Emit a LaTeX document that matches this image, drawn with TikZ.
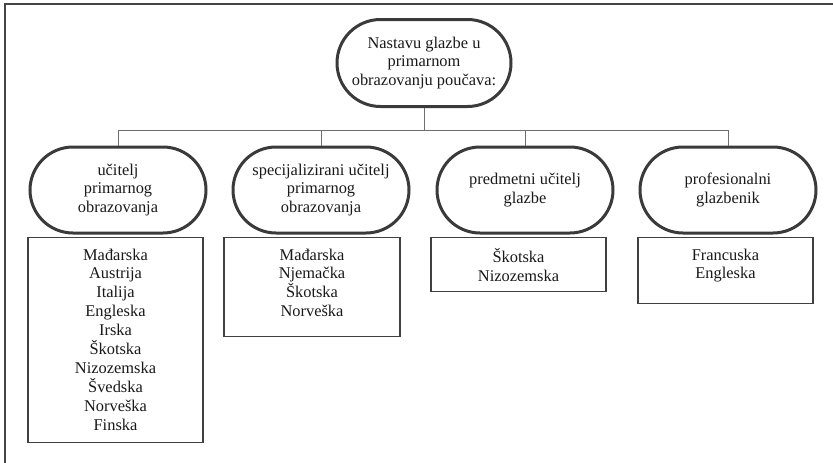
\documentclass[tikz,border=0pt]{standalone}
\usepackage{fontspec}
\setmainfont{Liberation Serif}
\usepackage{tikz}
\usetikzlibrary{shapes.misc,positioning}
\usepackage{xcolor}

\begin{document}
\begin{tikzpicture}[x=1pt,y=-1pt]
    %styles
    \tikzstyle{pill}=[rounded rectangle,draw={rgb,255:red,58;green,58;blue,58},line width=3pt,
        minimum width=176pt,minimum height=86pt,inner sep=0pt,align=center,
        font=\fontsize{16.4pt}{18.9pt}\selectfont,text={rgb,255:red,25;green,25;blue,25}]
    \tikzstyle{box}=[rectangle,draw={rgb,255:red,64;green,64;blue,64},line width=1.4pt,
        minimum width=175pt,inner sep=0pt,anchor=north]
    \tikzstyle{list}=[align=center,inner sep=0pt,anchor=north,
        font=\fontsize{16.4pt}{18.9pt}\selectfont,text={rgb,255:red,25;green,25;blue,25},
        execute at begin node=\strut]
    \tikzstyle{link}=[draw={rgb,255:red,110;green,110;blue,110},line width=0.9pt]
    \useasboundingbox (0,0) rectangle (833,463);
    % frame
    \draw[draw={rgb,255:red,68;green,68;blue,68},line width=1.5pt] (5,463) -- (5,4) -- (833,4);

    %nodes
    \node[pill,minimum width=174pt,minimum height=87pt] (top) at (424,63)
        {Nastavu glazbe u\\primarnom\\obrazovanju poučava:};
    \node[pill] (n1) at (118,190) {učitelj\\primarnog\\obrazovanja};
    \node[pill] (n2) at (321,190) {specijalizirani učitelj\\primarnog\\obrazovanja};
    \node[pill] (n3) at (525,190) {predmetni učitelj\\glazbe};
    \node[pill] (n4) at (728,190) {profesionalni\\glazbenik};

    \node[box,minimum height=205pt] (b1) at (115.5,237) {};
    \node[box,minimum height=99pt,minimum width=176pt] (b2) at (312,237) {};
    \node[box,minimum height=54pt] (b3) at (518.5,237) {};
    \node[box,minimum height=66pt] (b4) at (725.5,237) {};

    \node[list,below=11.5pt of b1.north] (l1) {Mađarska\\Austrija\\Italija\\Engleska\\Irska\\Škotska\\Nizozemska\\Švedska\\Norveška\\Finska};
    \node[list,below=11.5pt of b2.north] (l2) {Mađarska\\Njemačka\\Škotska\\Norveška};
    \node[list,below=11.5pt of b3.north] (l3) {Škotska\\Nizozemska};
    \node[list,below=11.5pt of b4.north] (l4) {Francuska\\Engleska};

    %lines
    \draw[link] (top.south) -- ++(0,22) -| (n1.north);
    \draw[link] (top.south) -- ++(0,22) -| (n2.north);
    \draw[link] (top.south) -- ++(0,22) -| (n3.north);
    \draw[link] (top.south) -- ++(0,22) -| (n4.north);
\end{tikzpicture}
\end{document}
